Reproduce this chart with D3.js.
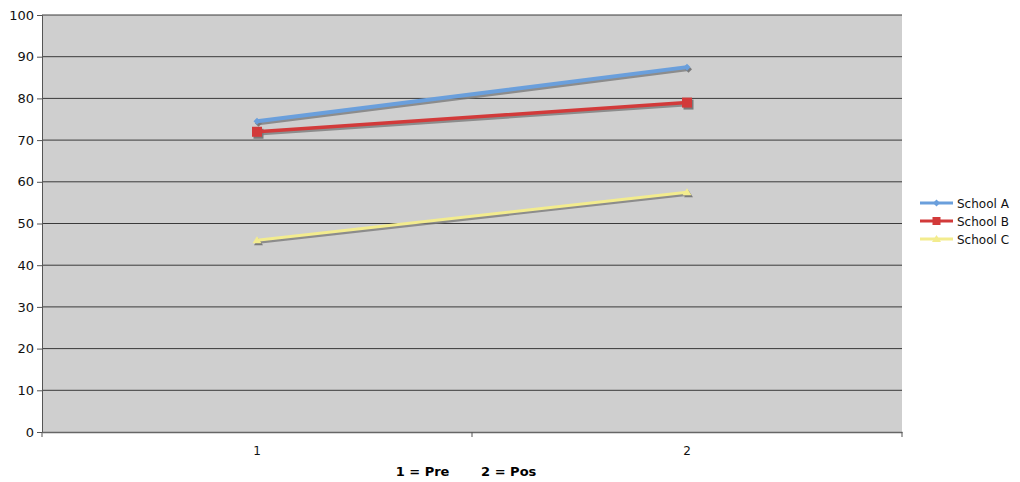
<!DOCTYPE html>
<html><head><meta charset="utf-8">
<script src="https://cdn.jsdelivr.net/npm/d3@7"></script>
<style>body{margin:0;background:#fff}svg{display:block}</style>
</head><body>
<svg id="c" width="1020" height="482"></svg>
<script>
const categories = ["1", "2"];
const yTicks = [0,10,20,30,40,50,60,70,80,90,100];
const schoolA = [74.5, 87.5];
const schoolB = [72, 79];
const schoolC = [46, 57.5];
const seriesNames = ["School A", "School B", "School C"];
const seriesColors = ["#6a9fdc", "#d23a3a", "#f3ec8e"];
const xTitle = "1 = Pre       2 = Pos";

const series = [schoolA, schoolB, schoolC].map((v,i)=>({name:seriesNames[i], values:v, color:seriesColors[i]}));
const svg = d3.select("#c");
const L=42, R=902, T=15, B=432;
const x = d3.scaleBand().domain(categories).range([L,R]);
const y = d3.scaleLinear().domain([0,100]).range([B,T]);
const font = "DejaVu Sans, Verdana, sans-serif";

svg.append("rect").attr("x",L).attr("y",T).attr("width",R-L).attr("height",B-T).attr("fill","#cfcfcf");
svg.append("g").selectAll("line").data(yTicks.filter(d=>d>0)).join("line")
  .attr("x1",L).attr("x2",R).attr("y1",d=>y(d)).attr("y2",d=>y(d)).attr("stroke","#3a3a3a").attr("stroke-width",1);
const ya = svg.append("g").attr("transform",`translate(${L},0)`).call(d3.axisLeft(y).tickValues(yTicks).tickSize(5).tickPadding(3));
ya.select(".domain").attr("stroke","#555");
ya.selectAll("line").attr("stroke","#555");
ya.selectAll("text").attr("font-family",font).attr("font-size",13).attr("fill","#111");
const xa = svg.append("g").attr("transform",`translate(0,${B})`).call(d3.axisBottom(x).tickSize(0).tickPadding(14));
xa.select(".domain").attr("stroke","#666").attr("stroke-width",1.5);
xa.selectAll("text").attr("font-family",font).attr("font-size",12).attr("fill","#111");
const edges = [L, ...categories.slice(1).map(c=>x(c)), R];
svg.append("g").selectAll("line").data(edges).join("line")
  .attr("x1",d=>d).attr("x2",d=>d).attr("y1",B).attr("y2",B+5).attr("stroke","#555");
svg.append("text").attr("x",466).attr("y",476).attr("text-anchor","middle").attr("font-family",font)
  .attr("font-size",13).attr("font-weight","bold").attr("xml:space","preserve").style("white-space","pre").text(xTitle);

const cx = c => x(c)+x.bandwidth()/2;
const line = d3.line().x((d,i)=>cx(categories[i])).y(d=>y(d));
function marker(g, type, px, py, color, size){
  if(type===0){
    g.append("path").attr("d",`M${px},${py-3.5}L${px+3.5},${py}L${px},${py+3.5}L${px-3.5},${py}Z`).attr("fill",color);
  } else if(type===1){
    g.append("rect").attr("x",px-size/2).attr("y",py-size/2).attr("width",size).attr("height",size).attr("fill",color);
  } else {
    g.append("path").attr("d",`M${px},${py-4}L${px+4.5},${py+3}L${px-4.5},${py+3}Z`).attr("fill",color);
  }
}
const widths=[4,3.5,3];
series.forEach((s,i)=>{
  const g = svg.append("g");
  g.append("path").attr("d",line(s.values)).attr("fill","none").attr("stroke","#7a7a7a").attr("stroke-opacity",0.8)
    .attr("stroke-width",widths[i]).attr("stroke-linecap","round").attr("transform","translate(1.5,2)");
  s.values.forEach((v,j)=>marker(g,i,cx(categories[j])+1.5,y(v)+2,"#7a7a7a",10));
  g.append("path").attr("d",line(s.values)).attr("fill","none").attr("stroke",s.color)
    .attr("stroke-width",widths[i]).attr("stroke-linecap","round");
  s.values.forEach((v,j)=>marker(g,i,cx(categories[j]),y(v),s.color,10));
});
const lg = svg.append("g");
series.forEach((s,i)=>{
  const ly = 203 + i*18;
  lg.append("line").attr("x1",920).attr("x2",953).attr("y1",ly).attr("y2",ly).attr("stroke",s.color).attr("stroke-width",3);
  marker(lg,i,936.5,ly,s.color,8);
  lg.append("text").attr("x",957).attr("y",ly+4.5).attr("font-family",font).attr("font-size",12).attr("fill","#111").text(s.name);
});
</script>
</body></html>
